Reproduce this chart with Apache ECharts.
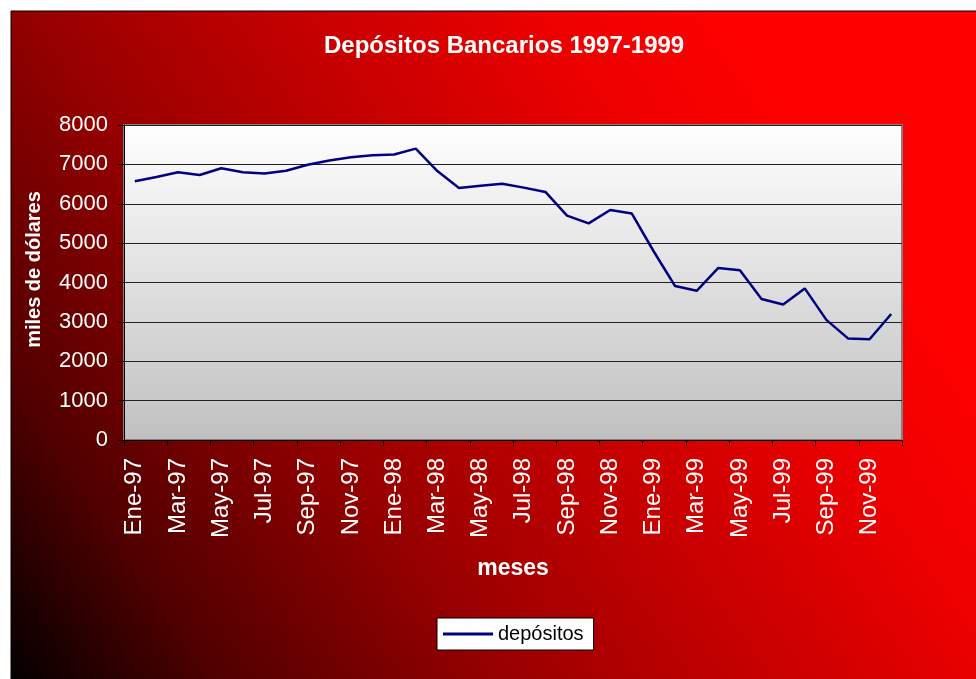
<!DOCTYPE html>
<html>
<head>
<meta charset="utf-8">
<title>Depósitos Bancarios 1997-1999</title>
<script src="https://cdn.jsdelivr.net/npm/echarts@6/dist/echarts.min.js"></script>
<style>
  html, body { margin: 0; padding: 0; background: #fff; }
  #main { width: 976px; height: 679px; }
</style>
</head>
<body>
<div id="main"></div>
<script>
// months, Ene-97 .. Dic-99
const meses = [
  'Ene-97', 'Feb-97', 'Mar-97', 'Abr-97', 'May-97', 'Jun-97', 'Jul-97', 'Ago-97', 'Sep-97', 'Oct-97', 'Nov-97', 'Dic-97',
  'Ene-98', 'Feb-98', 'Mar-98', 'Abr-98', 'May-98', 'Jun-98', 'Jul-98', 'Ago-98', 'Sep-98', 'Oct-98', 'Nov-98', 'Dic-98',
  'Ene-99', 'Feb-99', 'Mar-99', 'Abr-99', 'May-99', 'Jun-99', 'Jul-99', 'Ago-99', 'Sep-99', 'Oct-99', 'Nov-99', 'Dic-99'
]
// miles de dólares
const depositos = [
  6570, 6680, 6800, 6730, 6900, 6800, 6770, 6840, 6990, 7100, 7180, 7230,
  7250, 7400, 6830, 6400, 6460, 6510, 6410, 6300, 5700, 5500, 5840, 5750,
  4800, 3910, 3790, 4370, 4310, 3580, 3440, 3850, 3050, 2580, 2560, 3200
]
const yTicks = { min: 0, max: 8000, interval: 1000 }

const font = "'Liberation Sans', Arial, sans-serif"
const chart = echarts.init(document.getElementById('main'))

chart.setOption({
  animation: false,
  textStyle: { fontFamily: font },
  graphic: [
    { // red background of the chart area
      type: 'rect',
      z: -10,
      silent: true,
      shape: { x: 11, y: 11, width: 975, height: 680 },
      style: {
        fill: new echarts.graphic.LinearGradient(0, 1, 1, 0, [
          { offset: 0, color: '#000000' },
          { offset: 0.15, color: '#500000' },
          { offset: 0.35, color: '#990000' },
          { offset: 0.5, color: '#c00000' },
          { offset: 0.7, color: '#ee0000' },
          { offset: 0.82, color: '#ff0000' },
          { offset: 1, color: '#ff0000' }
        ]),
        stroke: '#000',
        lineWidth: 1
      }
    }
  ],
  title: {
    text: 'Depósitos Bancarios 1997-1999',
    left: 319,
    top: 29,
    textStyle: { color: '#fff', fontSize: 24, fontWeight: 'bold', fontFamily: font }
  },
  grid: {
    left: 124,
    right: 74,
    top: 125,
    bottom: 239,
    show: true,
    backgroundColor: new echarts.graphic.LinearGradient(0, 0, 0, 1, [
      { offset: 0, color: '#ffffff' },
      { offset: 1, color: '#c0c0c0' }
    ]),
    borderColor: '#808080',
    borderWidth: 2
  },
  legend: {
    left: 437,
    top: 618,
    padding: [6, 10, 6, 6],
    backgroundColor: '#fff',
    borderColor: '#000',
    borderWidth: 1,
    borderRadius: 0,
    icon: 'rect',
    itemWidth: 50,
    itemHeight: 3,
    textStyle: { color: '#000', fontSize: 20, lineHeight: 20, fontFamily: font }
  },
  xAxis: {
    type: 'category',
    data: meses,
    boundaryGap: true,
    name: 'meses',
    nameLocation: 'middle',
    nameGap: 117,
    nameTextStyle: { color: '#fff', fontSize: 23, fontWeight: 'bold', fontFamily: font },
    axisLine: { lineStyle: { color: '#000', width: 1 } },
    axisTick: { show: true, interval: 1, length: 6, lineStyle: { color: '#000' } },
    axisLabel: {
      interval: 1,
      rotate: 90,
      margin: 18,
      color: '#fff',
      fontSize: 24,
      fontFamily: font
    },
    splitLine: { show: false }
  },
  yAxis: {
    type: 'value',
    min: yTicks.min,
    max: yTicks.max,
    interval: yTicks.interval,
    name: 'miles de dólares',
    nameLocation: 'middle',
    nameGap: 80,
    nameRotate: 90,
    nameTextStyle: { color: '#fff', fontSize: 20, fontWeight: 'bold', fontFamily: font, padding: [0, 0, 0, 26] },
    axisLine: { show: true, lineStyle: { color: '#000', width: 1 } },
    axisTick: { show: true, length: 6, lineStyle: { color: '#000' } },
    axisLabel: { color: '#fff', fontSize: 22, margin: 16, fontFamily: font, formatter: v => String(v) },
    splitLine: { show: true, lineStyle: { color: '#222', width: 1 } }
  },
  series: [
    {
      name: 'depósitos',
      type: 'line',
      data: depositos,
      symbol: 'none',
      lineStyle: { color: '#000080', width: 2.5 },
      itemStyle: { color: '#000080' }
    }
  ]
})
</script>
</body>
</html>
